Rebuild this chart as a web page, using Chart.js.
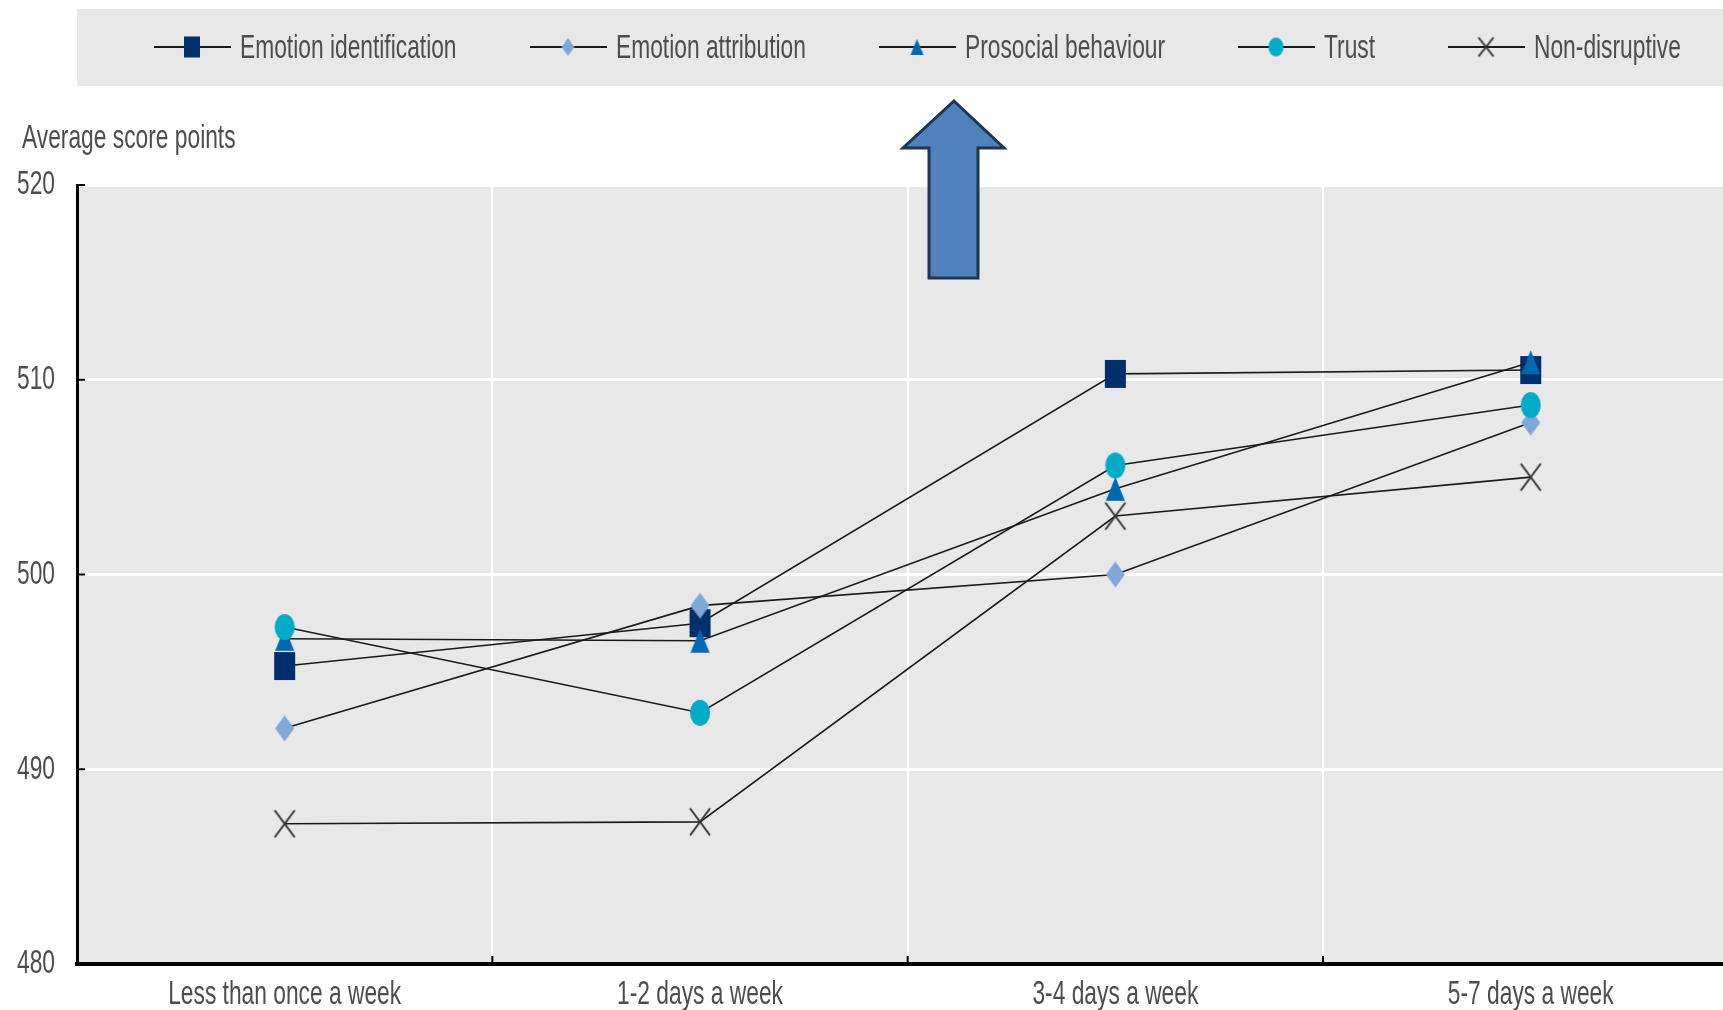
<!DOCTYPE html>
<html>
<head>
<meta charset="utf-8">
<script src="https://cdn.jsdelivr.net/npm/chart.js@4.4.0/dist/chart.umd.min.js"></script>
<style>
  html, body { margin: 0; padding: 0; background: #fff; overflow: hidden; }
</style>
</head>
<body>
<canvas id="myChart" width="1752" height="1010"></canvas>
<script>
// data
var categories = ['Less than once a week', '1-2 days a week', '3-4 days a week', '5-7 days a week'];
var seriesNames = ['Emotion identification', 'Emotion attribution', 'Prosocial behaviour', 'Trust', 'Non-disruptive'];
var emotionIdentification = [495.3, 497.5, 510.3, 510.5];
var emotionAttribution = [492.1, 498.4, 500.0, 507.8];
var prosocialBehaviour = [496.7, 496.6, 504.4, 510.9];
var trust = [497.3, 492.9, 505.6, 508.7];
var nonDisruptive = [487.2, 487.3, 503.0, 505.0];
var yTicks = [480, 490, 500, 510, 520];
var yTitle = 'Average score points';

// the original uses a very condensed Arial-like face; squeeze Liberation Sans
var FONT = "'Liberation Sans', Arial, sans-serif";
var SQUEEZE = 0.67;
var TEXT = '#4d4d4d';
var PANEL = '#e8e8e8';

// markers are a bit taller than wide in the original
function makeMarker(shape, w, h, color) {
    var c = document.createElement('canvas');
    c.width = w + 4;
    c.height = h + 4;
    var g = c.getContext('2d');
    var cx = c.width / 2, cy = c.height / 2;
    g.fillStyle = color;
    g.strokeStyle = color;
    g.beginPath();
    if (shape === 'square') {
        g.rect(cx - w / 2, cy - h / 2, w, h);
        g.fill();
    } else if (shape === 'diamond') {
        g.moveTo(cx, cy - h / 2);
        g.lineTo(cx + w / 2, cy);
        g.lineTo(cx, cy + h / 2);
        g.lineTo(cx - w / 2, cy);
        g.closePath();
        g.fill();
    } else if (shape === 'triangle') {
        g.moveTo(cx, cy - h / 2);
        g.lineTo(cx + w / 2, cy + h / 2);
        g.lineTo(cx - w / 2, cy + h / 2);
        g.closePath();
        g.fill();
    } else if (shape === 'circle') {
        g.ellipse(cx, cy, w / 2, h / 2, 0, 0, Math.PI * 2);
        g.fill();
    } else if (shape === 'cross') {
        g.lineWidth = 2;
        g.moveTo(cx - w / 2, cy - h / 2);
        g.lineTo(cx + w / 2, cy + h / 2);
        g.moveTo(cx + w / 2, cy - h / 2);
        g.lineTo(cx - w / 2, cy + h / 2);
        g.stroke();
    }
    return c;
}

var markers = [
    makeMarker('square', 21, 28, '#002f6c'),
    makeMarker('diamond', 19, 26, '#7fa7d8'),
    makeMarker('triangle', 19, 24, '#0067b1'),
    makeMarker('circle', 20, 26, '#00abc8'),
    makeMarker('cross', 20, 27, '#333333')
];
var legendMarkers = [
    makeMarker('square', 16, 21, '#002f6c'),
    makeMarker('diamond', 13, 18, '#7fa7d8'),
    makeMarker('triangle', 13, 16, '#0067b1'),
    makeMarker('circle', 15, 19, '#00abc8'),
    makeMarker('cross', 15, 19, '#333333')
];

// align: 'left' | 'right' | 'center'
function narrowText(ctx, text, x, y, size, align) {
    ctx.save();
    ctx.font = size + 'px ' + FONT;
    ctx.fillStyle = TEXT;
    ctx.textBaseline = 'middle';
    ctx.textAlign = align || 'left';
    ctx.translate(x, y);
    ctx.scale(SQUEEZE, 1);
    ctx.fillText(text, 0, 0);
    ctx.restore();
}

var decorations = {
    id: 'decorations',
    beforeDraw: function (chart) {
        var ctx = chart.ctx, a = chart.chartArea;
        ctx.save();
        ctx.fillStyle = PANEL;
        ctx.fillRect(a.left, a.top, a.right - a.left, a.bottom - a.top);
        // legend band
        ctx.fillRect(77, 9, chart.width - 77, 77);
        ctx.restore();
    },
    afterDraw: function (chart) {
        var ctx = chart.ctx, a = chart.chartArea;
        var ys = chart.scales.y, xs = chart.scales.x;

        // legend
        var starts = [154, 530, 879, 1238, 1448];
        var ly = 47;
        for (var i = 0; i < seriesNames.length; i++) {
            var x0 = starts[i];
            ctx.save();
            ctx.strokeStyle = '#1a1a1a';
            ctx.lineWidth = 2;
            ctx.beginPath();
            ctx.moveTo(x0, ly);
            ctx.lineTo(x0 + 77, ly);
            ctx.stroke();
            var m = legendMarkers[i];
            ctx.drawImage(m, x0 + 38 - m.width / 2, ly - m.height / 2);
            ctx.restore();
            narrowText(ctx, seriesNames[i], x0 + 86, ly + 2, 34);
        }
        // axis title
        narrowText(ctx, yTitle, 22, 139, 34);

        // tick labels, placed by the scales
        ys.ticks.forEach(function (t) {
            narrowText(ctx, String(t.value), a.left - 22, ys.getPixelForValue(t.value), 34, 'right');
        });
        categories.forEach(function (c, k) {
            narrowText(ctx, c, xs.getPixelForValue(k), a.bottom + 31, 34, 'center');
        });

        // small inward tick marks
        ctx.save();
        ctx.strokeStyle = '#000';
        ctx.lineWidth = 2;
        ctx.beginPath();
        ys.ticks.forEach(function (t) {
            var py = ys.getPixelForValue(t.value);
            ctx.moveTo(a.left, py);
            ctx.lineTo(a.left + 8, py);
        });
        for (var k = 1; k < categories.length; k++) {
            var px = (xs.getPixelForValue(k - 1) + xs.getPixelForValue(k)) / 2;
            ctx.moveTo(px, a.bottom);
            ctx.lineTo(px, a.bottom - 8);
        }
        ctx.stroke();
        ctx.restore();

        // the blue arrow pointing to the legend
        ctx.save();
        ctx.beginPath();
        ctx.moveTo(954, 101);
        ctx.lineTo(1004, 148);
        ctx.lineTo(978, 148);
        ctx.lineTo(978, 278);
        ctx.lineTo(929, 278);
        ctx.lineTo(929, 148);
        ctx.lineTo(903, 148);
        ctx.closePath();
        ctx.fillStyle = '#4f81bd';
        ctx.fill();
        ctx.lineWidth = 3;
        ctx.strokeStyle = '#1f3552';
        ctx.stroke();
        ctx.restore();
    }
};

var seriesData = [emotionIdentification, emotionAttribution, prosocialBehaviour, trust, nonDisruptive];
var drawOrder = [5, 4, 3, 2, 1];

var datasets = seriesNames.map(function (name, i) {
    return {
        label: name,
        data: seriesData[i],
        borderColor: '#1a1a1a',
        borderWidth: 1.6,
        pointStyle: markers[i],
        pointRadius: 12,
        pointHoverRadius: 12,
        order: drawOrder[i],
        tension: 0
    };
});

var ctx = document.getElementById('myChart').getContext('2d');
var myChart = new Chart(ctx, {
    type: 'line',
    data: {
        labels: categories,
        datasets: datasets
    },
    options: {
        responsive: false,
        animation: false,
        layout: { padding: { top: 185, left: 0, right: 0, bottom: 0 } },
        plugins: {
            legend: { display: false },
            tooltip: { enabled: false }
        },
        scales: {
            x: {
                offset: true,
                grid: { offset: true, color: '#ffffff', lineWidth: 2, drawTicks: false },
                border: { display: true, color: '#000000', width: 4 },
                ticks: { display: false },
                afterFit: function (scale) { scale.height = 46; }
            },
            y: {
                min: 480,
                max: 520,
                afterBuildTicks: function (scale) {
                    scale.ticks = yTicks.map(function (v) { return { value: v }; });
                },
                grid: { color: '#ffffff', lineWidth: 3, drawTicks: false },
                border: { display: true, color: '#000000', width: 3 },
                ticks: { display: false },
                afterFit: function (scale) { scale.width = 77; }
            }
        }
    },
    plugins: [decorations]
});
</script>
</body>
</html>
